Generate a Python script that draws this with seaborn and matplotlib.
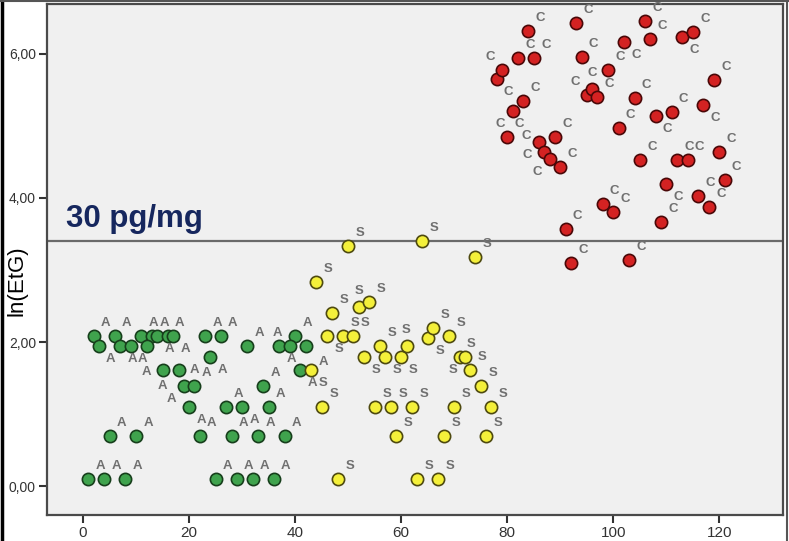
import matplotlib
matplotlib.use("Agg")
import matplotlib.pyplot as plt
import seaborn as sns
import pandas as pd
import numpy as np
from matplotlib.lines import Line2D

# ---------------- data ----------------
ids_A = [2, 6, 11, 13, 14, 16, 17, 23, 26, 40,
         3, 7, 9, 12, 31, 37, 39, 42,
         24,
         15, 18, 41,
         19, 21, 34,
         20, 27, 30, 35,
         5, 10, 22, 28, 33, 38,
         1, 4, 8, 25, 29, 32, 36]
etg_A = [2.08] * 10 + [1.95] * 8 + [1.79] + [1.61] * 3 + [1.39] * 3 + \
        [1.10] * 4 + [0.69] * 6 + [0.10] * 7

ids_S = list(range(43, 78))
etg_S = [1.61, 2.83, 1.10, 2.08, 2.40, 0.10, 2.08, 3.33, 2.08, 2.48,
         1.79, 2.56, 1.10, 1.95, 1.79, 1.10, 0.69, 1.79, 1.95, 1.10,
         0.10, 3.40, 2.06, 2.20, 0.10, 0.69, 2.08, 1.10, 1.79, 1.79,
         1.61, 3.18, 1.39, 0.69, 1.10]

ids_C = list(range(78, 122))
etg_C = [5.65, 5.77, 4.85, 5.21, 5.94, 5.34, 6.32, 5.94, 4.77, 4.63,
         4.54, 4.84, 4.43, 3.57, 3.09, 6.43, 5.95, 5.43, 5.51, 5.40,
         3.92, 5.77, 3.81, 4.97, 6.16, 3.14, 5.39, 4.53, 6.46, 6.20,
         5.13, 3.66, 4.19, 5.19, 4.52, 6.23, 4.52, 6.30, 4.02, 5.29,
         3.87, 5.63, 4.64, 4.25]

group_labels = ["A", "S", "C"]
threshold_label = "30 pg/mg"
threshold_value = 3.40          # ln(30)
x_ticks = [0, 20, 40, 60, 80, 100, 120]
y_ticks = [0, 2, 4, 6]
y_ticklabels = ["0,00", "2,00", "4,00", "6,00"]
y_title = "ln(EtG)"

df = pd.DataFrame({
    "id": ids_A + ids_S + ids_C,
    "etg": etg_A + etg_S + etg_C,
    "group": ["A"] * len(ids_A) + ["S"] * len(ids_S) + ["C"] * len(ids_C),
})

fills = {"A": "#3FA34D", "S": "#F4F03A", "C": "#D42222"}
edges = {"A": "#173F1C", "S": "#4E4A10", "C": "#4A0808"}

# ---------------- figure ----------------
sns.set_style("white")
plt.rcParams["font.family"] = ["Liberation Sans", "DejaVu Sans"]

fig = plt.figure(figsize=(7.89, 5.41), dpi=100)
ax = fig.add_axes([47 / 789, 1 - 515 / 541, (783 - 47) / 789, (515 - 4) / 541])
ax.set_facecolor("#F0F0F0")
ax.set_xlim(-6.8, 132)
ax.set_ylim(-0.40, 6.69)

ax.axhline(threshold_value, color="#6A6A6A", lw=1.6, zorder=1)

for g in group_labels:
    sub = df[df["group"] == g]
    sns.scatterplot(data=sub, x="id", y="etg", ax=ax, color=fills[g],
                    edgecolor=edges[g], linewidth=1.2, s=78, zorder=3,
                    legend=False)

# ----- point labels with simple greedy collision avoidance (pixel space) -----
pts = ax.transData.transform(np.column_stack([df["id"], df["etg"]]))
cands = [(12, 13), (12, -13), (-12, 13), (-12, -13), (0, 16), (0, -16),
         (16, 0), (-16, 0), (18, 16), (-18, 16), (18, -16), (-18, -16),
         (24, 12), (-24, 12), (24, -12), (-24, -12), (0, 26), (0, -26),
         (26, 0), (-26, 0)]
hw, hh = 5.0, 6.0        # half size of a letter box
rad = 6.5                # marker radius
placed = []


def box_hits(cx, cy):
    for (bx, by) in placed:
        if abs(cx - bx) < 2 * hw and abs(cy - by) < 2 * hh:
            return True
    for (px, py) in pts:
        dx = max(abs(cx - px) - hw, 0)
        dy = max(abs(cy - py) - hh, 0)
        if dx * dx + dy * dy < rad * rad:
            return True
    return False


for (px, py), g in zip(pts, df["group"]):
    chosen = cands[0]
    for (ox, oy) in cands:
        if not box_hits(px + ox, py + oy):
            chosen = (ox, oy)
            break
    cx, cy = px + chosen[0], py + chosen[1]
    placed.append((cx, cy))
    ax.annotate(g, (px, py), xycoords="figure pixels",
                xytext=(chosen[0] * 0.72, chosen[1] * 0.72),
                textcoords="offset points", ha="center", va="center",
                fontsize=9.5, fontweight="bold", color="#707070", zorder=4)

ax.text(-3.2, 3.597, threshold_label, fontsize=22.5, fontweight="bold",
        color="#16275E", ha="left", va="baseline", zorder=5)

ax.set_xticks(x_ticks)
ax.set_yticks(y_ticks)
ax.set_yticklabels(y_ticklabels)
ax.set_xlabel("")
ax.set_ylabel(y_title, fontsize=16, color="black")
ax.yaxis.set_label_coords(-0.026, 0.458)

ax.tick_params(axis="both", direction="out", length=6, width=1.5,
               color="#333333", labelcolor="#333333", bottom=True, left=True)
ax.tick_params(axis="x", labelsize=11, pad=2)
ax.tick_params(axis="y", labelsize=10, pad=2)

for sp in ax.spines.values():
    sp.set_color("#4A4A4A")
    sp.set_linewidth(1.6)

# outer frame of the picture
fig.add_artist(Line2D([0.002, 0.002], [0, 1], transform=fig.transFigure,
                      color="black", lw=2.5))
fig.add_artist(Line2D([0, 1], [0.999, 0.999], transform=fig.transFigure,
                      color="#555555", lw=1.5))
fig.add_artist(Line2D([0.998, 0.998], [0, 1], transform=fig.transFigure,
                      color="#555555", lw=1.5))

fig.savefig("out.png", dpi=100, facecolor="white")
